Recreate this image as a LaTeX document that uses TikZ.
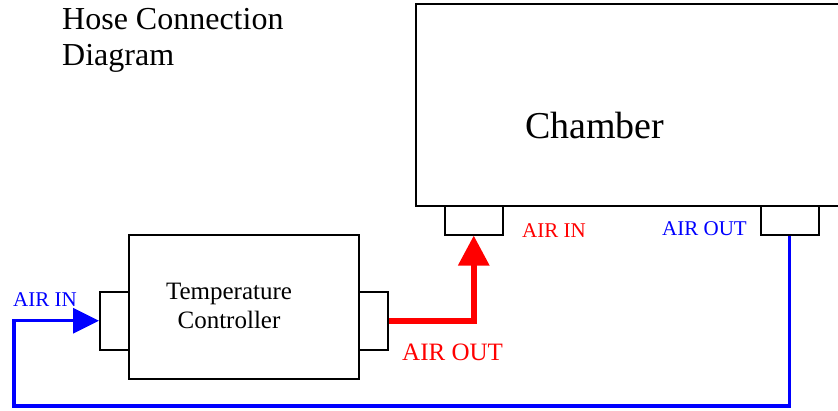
\documentclass[tikz,border=0pt]{standalone}
\usepackage{fontspec}
\setmainfont{Liberation Serif}
\usetikzlibrary{arrows.meta}
\definecolor{hosered}{RGB}{255,0,0}
\definecolor{hoseblue}{RGB}{0,0,255}
\tikzset{
  box/.style={draw=black, line width=1.5pt, fill=white, inner sep=0pt, anchor=north west},
  lbl/.style={inner sep=0pt, anchor=base west},
  redhose/.style={draw=hosered, line width=6pt, -{Triangle[length=30pt,width=30pt]}},
  bluehose/.style={draw=hoseblue, line width=3.2pt, -{Triangle[length=26pt,width=25pt]}},
}
\begin{document}
\begin{tikzpicture}[x=1pt,y=-1pt]
\useasboundingbox (0,0) rectangle (838,410);
% chamber
\node[box, minimum width=437pt, minimum height=202pt] (chamber) at (415,3) {};
\node[box, minimum width=58pt, minimum height=29pt] (cin) at (444,205) {};
\node[box, minimum width=58pt, minimum height=29pt] (cout) at (760,205) {};
\node[lbl, font=\fontsize{38}{44}\selectfont] (chlabel) at (525,138) {Chamber};
% temperature controller
\node[box, minimum width=29pt, minimum height=58pt] (tcl) at (99,291) {};
\node[box, minimum width=29pt, minimum height=58pt] (tcr) at (358,291) {};
\node[box, minimum width=230pt, minimum height=144pt] (tc) at (128,234) {};
\node[inner sep=0pt, align=center, font=\fontsize{25}{29}\selectfont] (tclabel) at (229,306) {Temperature\\Controller};
% title
\node[lbl, align=left, font=\fontsize{32}{36}\selectfont] (title) at (62,65) {Hose Connection\\Diagram};
% hoses
\coordinate (bl) at (14,406);
\draw[redhose] (tcr.east) -| (cin.south);
\draw[bluehose] (cout.south) |- (bl) |- (tcl.west);
% labels
\node[lbl, text=hoseblue, font=\fontsize{21}{24}\selectfont] (inL) at (13,306.7) {AIR IN};
\node[lbl, text=hosered, font=\fontsize{25}{28}\selectfont] (outR) at (402,360) {AIR OUT};
\node[lbl, text=hosered, font=\fontsize{21}{24}\selectfont] (inC) at (522,237) {AIR IN};
\node[lbl, text=hoseblue, font=\fontsize{21}{24}\selectfont] (outC) at (662,235) {AIR OUT};
\end{tikzpicture}
\end{document}
